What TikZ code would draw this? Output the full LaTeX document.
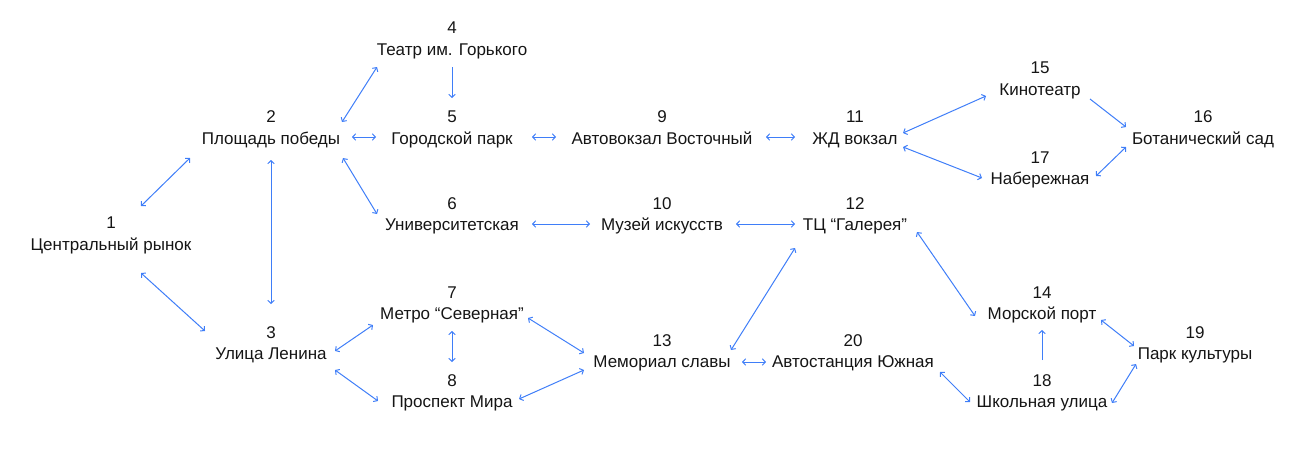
\documentclass[tikz,border=0pt]{standalone}
\usepackage{fontspec}
\setmainfont{Liberation Sans}
\usetikzlibrary{arrows.meta}
\definecolor{linkblue}{HTML}{3F7EF8}
\definecolor{txt}{HTML}{151515}
\newcommand{\ms}{\rule[-4.4pt]{0pt}{20.4pt}}
\tikzset{
  st/.style={align=center, inner sep=0pt, text=txt, font=\fontsize{17}{21.5}\selectfont},
  lk/.style={draw=linkblue, line width=1pt, {Straight Barb[length=3pt,width=6.5pt]}-{Straight Barb[length=3pt,width=6.5pt]}},
  lko/.style={draw=linkblue, line width=1pt, -{Straight Barb[length=3pt,width=6.5pt]}}
}
\begin{document}
\begin{tikzpicture}[x=1pt,y=-1pt]
\useasboundingbox (0,0) rectangle (1311,464);
\node[st] (n1) at (111,233.5) {\ms 1\\\ms Центральный рынок};
\node[st] (n2) at (271,127.5) {\ms 2\\\ms Площадь победы};
\node[st] (n3) at (271,343) {\ms 3\\\ms Улица Ленина};
\node[st] (n4) at (452,38.5) {\ms 4\\\ms Театр им. Горького};
\node[st] (n5) at (452,127.5) {\ms 5\\\ms Городской парк};
\node[st] (n6) at (452,214) {\ms 6\\\ms Университетская};
\node[st] (n7) at (452,303) {\ms 7\\\ms Метро “Северная”};
\node[st] (n8) at (452,391) {\ms 8\\\ms Проспект Мира};
\node[st] (n9) at (662,127.5) {\ms 9\\\ms Автовокзал Восточный};
\node[st] (n10) at (662,214) {\ms 10\\\ms Музей искусств};
\node[st] (n11) at (855,127.5) {\ms 11\\\ms ЖД вокзал};
\node[st] (n12) at (855,214) {\ms 12\\\ms ТЦ “Галерея”};
\node[st] (n13) at (662,351) {\ms 13\\\ms Мемориал славы};
\node[st] (n20) at (853,351) {\ms 20\\\ms Автостанция Южная};
\node[st] (n14) at (1042,303) {\ms 14\\\ms Морской порт};
\node[st] (n18) at (1042,391) {\ms 18\\\ms Школьная улица};
\node[st] (n15) at (1040,78.5) {\ms 15\\\ms Кинотеатр};
\node[st] (n17) at (1040,168) {\ms 17\\\ms Набережная};
\node[st] (n16) at (1203,127.5) {\ms 16\\\ms Ботанический сад};
\node[st] (n19) at (1195,343) {\ms 19\\\ms Парк культуры};

\draw[lk] ([shift={(30,-27.5)}]n1.center) -- ([shift={(-81,30.5)}]n2.center);
\draw[lk] ([shift={(71,-5.5)}]n2.center) -- ([shift={(-75,28.5)}]n4.center);
\draw[lko] ([shift={(0,28.5)}]n4.center) -- ([shift={(0,-29.5)}]n5.center);
\draw[lk] ([shift={(81,9.5)}]n2.center) -- ([shift={(-76,9.5)}]n5.center);
\draw[lk] ([shift={(0,32.5)}]n2.center) -- ([shift={(0,-39)}]n3.center);
\draw[lk] ([shift={(72,30.5)}]n2.center) -- ([shift={(-75,0)}]n6.center);
\draw[lk] ([shift={(30,39.5)}]n1.center) -- ([shift={(-66,-12)}]n3.center);
\draw[lk] ([shift={(80,9.5)}]n5.center) -- ([shift={(-106,9.5)}]n9.center);
\draw[lk] ([shift={(104,9.5)}]n9.center) -- ([shift={(-60,9.5)}]n11.center);
\draw[lk] ([shift={(80,10)}]n6.center) -- ([shift={(-72,10)}]n10.center);
\draw[lk] ([shift={(74,10)}]n10.center) -- ([shift={(-60,10)}]n12.center);
\draw[lk] ([shift={(48,5.5)}]n11.center) -- ([shift={(-54,17.5)}]n15.center);
\draw[lk] ([shift={(48,19.5)}]n11.center) -- ([shift={(-58,10)}]n17.center);
\draw[lko] ([shift={(50,20.5)}]n15.center) -- ([shift={(-77,-0.5)}]n16.center);
\draw[lk] ([shift={(56,8)}]n17.center) -- ([shift={(-77,19.5)}]n16.center);
\draw[lk] ([shift={(64,8)}]n3.center) -- ([shift={(-79,22)}]n7.center);
\draw[lk] ([shift={(64,27)}]n3.center) -- ([shift={(-74,10)}]n8.center);
\draw[lk] ([shift={(0,28)}]n7.center) -- ([shift={(0,-29)}]n8.center);
\draw[lk] ([shift={(76,15)}]n7.center) -- ([shift={(-78,2)}]n13.center);
\draw[lk] ([shift={(67,8)}]n8.center) -- ([shift={(-78,19)}]n13.center);
\draw[lk] ([shift={(-60,34)}]n12.center) -- ([shift={(69,-1)}]n13.center);
\draw[lk] ([shift={(62,18)}]n12.center) -- ([shift={(-67,13)}]n14.center);
\draw[lk] ([shift={(80,11)}]n13.center) -- ([shift={(-87,11)}]n20.center);
\draw[lk] ([shift={(87,21)}]n20.center) -- ([shift={(-72,11)}]n18.center);
\draw[lko] ([shift={(0,-31)}]n18.center) -- ([shift={(0,27)}]n14.center);
\draw[lk] ([shift={(59,17)}]n14.center) -- ([shift={(-61,3)}]n19.center);
\draw[lk] ([shift={(70,12)}]n18.center) -- ([shift={(-59,21)}]n19.center);
\end{tikzpicture}
\end{document}
